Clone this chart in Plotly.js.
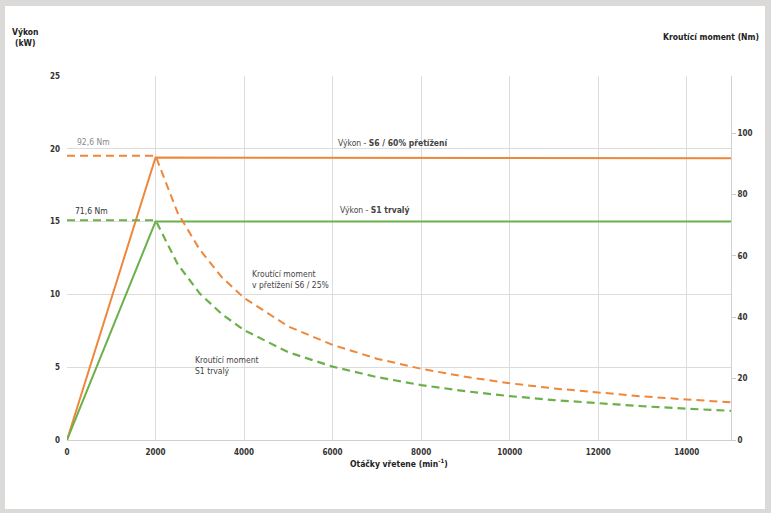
<!DOCTYPE html>
<html><head><meta charset="utf-8">
<script src="https://cdn.plot.ly/plotly-3.0.1.min.js"></script>
<style>
html,body{margin:0;padding:0;background:#dcdad8;width:771px;height:513px;overflow:hidden}
#chart{position:absolute;left:5px;top:6px;width:760px;height:503px;background:#fff}
</style></head><body>
<div id="chart"></div>
<script>
// Power curves (kW) vs spindle speed (min^-1)
const powerRpm = [0, 2000, 15000];
const powerS6 = [0, 19.4, 19.35];
const powerS1 = [0, 15.0, 15.0];
// Torque curves (Nm)
const torqueRpm = [0, 2000, 2500, 3000, 3500, 4000, 5000, 6000, 7000, 8000, 9000, 10000, 11000, 12000, 13000, 14000, 15000];
const torqueS6 = [92.6, 92.6, 74, 62, 53, 46.3, 37, 31, 26.5, 23.2, 20.6, 18.5, 16.8, 15.4, 14.2, 13.2, 12.3];
const torqueS1 = [71.6, 71.6, 57.3, 47.7, 41, 35.8, 28.6, 23.9, 20.5, 17.9, 15.9, 14.3, 13, 11.9, 11, 10.2, 9.5];
const xTicks = [0, 2000, 4000, 6000, 8000, 10000, 12000, 14000];

const orange = '#ef873a', green = '#6bb04a';
const tickFont = {family: 'DejaVu Sans Condensed', size: 8, color: '#333', weight: 'bold'};
const txtFont = {family: 'DejaVu Sans Condensed', size: 8.5, color: '#444'};
const titleFont = {family: 'DejaVu Sans Condensed', size: 8.5, color: '#222'};

const traces = [
  {x: powerRpm, y: powerS6, mode: 'lines', line: {color: orange, width: 2}, yaxis: 'y'},
  {x: powerRpm, y: powerS1, mode: 'lines', line: {color: green, width: 2}, yaxis: 'y'},
  {x: torqueRpm, y: torqueS6, mode: 'lines', line: {color: orange, width: 2, dash: '8px,5px'}, yaxis: 'y2'},
  {x: torqueRpm, y: torqueS1, mode: 'lines', line: {color: green, width: 2.2, dash: '8px,5px'}, yaxis: 'y2'}
];

const layout = {
  width: 760, height: 503,
  margin: {l: 62, r: 34, t: 70, b: 69},
  paper_bgcolor: '#fff', plot_bgcolor: '#fff',
  showlegend: false,
  xaxis: {range: [0, 15000], tickvals: xTicks, ticktext: xTicks.map(String), showgrid: true, gridcolor: '#dcdcdc', gridwidth: 1,
          zeroline: false, showline: true, linecolor: '#d0d0d0', tickfont: tickFont, ticks: '', ticklabelstandoff: 4},
  yaxis: {range: [0, 25], dtick: 5, showgrid: true, gridcolor: '#dcdcdc', zeroline: false, showline: false,
          tickfont: tickFont, ticks: '', ticklabelstandoff: 6},
  yaxis2: {range: [0, 118.6], dtick: 20, overlaying: 'y', side: 'right', showgrid: false, zeroline: false,
           showline: true, linecolor: '#d0d0d0', ticks: 'outside', ticklen: 4, tickcolor: '#ccc', tickfont: tickFont},
  annotations: [
    {xref: 'paper', yref: 'paper', x: -0.063, y: 1.14, xanchor: 'center', yanchor: 'top', showarrow: false, align: 'center',
     text: '<b>Výkon<br>(kW)</b>', font: titleFont},
    {xref: 'paper', yref: 'paper', x: 0.97, y: 1.107, xanchor: 'center', yanchor: 'middle', showarrow: false,
     text: '<b>Kroutící moment (Nm)</b>', font: titleFont},
    {xref: 'paper', yref: 'paper', x: 0.5, y: -0.063, xanchor: 'center', yanchor: 'middle', showarrow: false,
     text: '<b>Otáčky vřetene (min<sup>-1</sup>)</b>', font: titleFont},
    {x: 181, y: 20.5, xanchor: 'left', showarrow: false, text: '92,6 Nm', font: {family: 'DejaVu Sans Condensed', size: 8.5, color: '#888'}},
    {x: 136, y: 15.75, xanchor: 'left', showarrow: false, text: '71,6 Nm', font: {family: 'DejaVu Sans Condensed', size: 8.5, color: '#333'}},
    {x: 6077, y: 20.4, xanchor: 'left', showarrow: false, text: 'Výkon - <b>S6 / 60% přetížení</b>', font: txtFont},
    {x: 6122, y: 15.8, xanchor: 'left', showarrow: false, text: 'Výkon - <b>S1 trvalý</b>', font: txtFont},
    {x: 4134, y: 11.0, xanchor: 'left', showarrow: false, align: 'left', text: 'Kroutící moment<br>v přetížení S6 / 25%', font: txtFont},
    {x: 2846, y: 5.15, xanchor: 'left', showarrow: false, align: 'left', text: 'Kroutící moment<br>S1 trvalý', font: txtFont}
  ]
};
Plotly.newPlot('chart', traces, layout, {displayModeBar: false, staticPlot: true});
</script>
</body></html>
